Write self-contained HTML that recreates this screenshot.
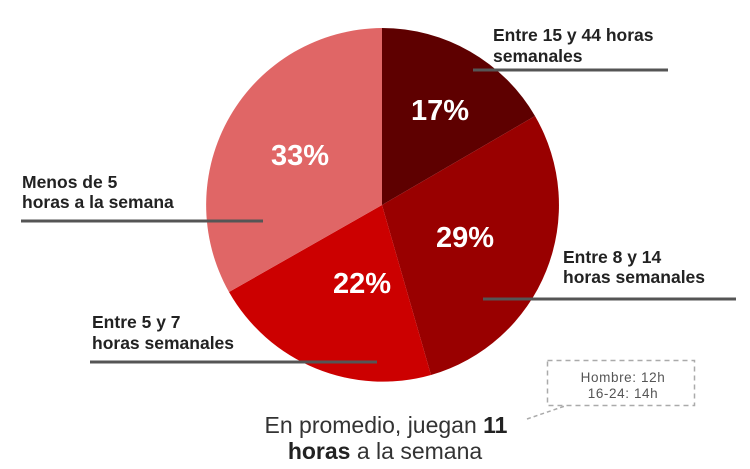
<!DOCTYPE html>
<html><head><meta charset="utf-8"><style>
html,body{margin:0;padding:0;background:#fff;}
svg{display:block;}
</style></head><body>
<svg width="750" height="469" viewBox="0 0 750 469" xmlns="http://www.w3.org/2000/svg">
<g>
<path d="M382,205 L382,28 A177,177 0 0 1 535,116 Z" fill="#5e0000"/>
<path d="M382,205 L535,116 A177,177 0 0 1 431,375 Z" fill="#990000"/>
<path d="M382,205 L431,375 A177,177 0 0 1 229,292 Z" fill="#cc0000"/>
<path d="M382,205 L229,292 A177,177 0 0 1 382,28 Z" fill="#e06666"/>
</g>
<g font-family="Liberation Sans, sans-serif" font-weight="bold" font-size="29" fill="#fff" text-anchor="middle">
<text x="440" y="120">17%</text>
<text x="300" y="165">33%</text>
<text x="465" y="247">29%</text>
<text x="362" y="293">22%</text>
</g>
<g stroke="#555" stroke-width="3">
<line x1="473" y1="70" x2="668" y2="70"/>
<line x1="21" y1="221" x2="263" y2="221"/>
<line x1="90" y1="362" x2="377" y2="362"/>
<line x1="483" y1="299" x2="736" y2="299"/>
</g>
<g font-family="Liberation Sans, sans-serif" font-size="17.5" fill="#222" font-weight="bold">
<text x="493" y="41">Entre 15 y 44 horas</text>
<text x="493" y="62">semanales</text>
<text x="22" y="188">Menos de 5</text>
<text x="22" y="208">horas a la semana</text>
<text x="92" y="328">Entre 5 y 7</text>
<text x="92" y="349">horas semanales</text>
<text x="563" y="263">Entre 8 y 14</text>
<text x="563" y="283">horas semanales</text>
</g>
<rect x="547.5" y="360.5" width="147" height="45" fill="none" stroke="#aaa" stroke-width="1.5" stroke-dasharray="5,4"/>
<line x1="527" y1="419" x2="565" y2="406" stroke="#aaa" stroke-width="1.5" stroke-dasharray="4,3"/>
<g font-family="Liberation Sans, sans-serif" font-size="13.5" fill="#555" text-anchor="middle" letter-spacing="0.6">
<text x="623" y="382">Hombre: 12h</text>
<text x="623" y="398">16-24: 14h</text>
</g>
<g font-family="Liberation Sans, sans-serif" font-size="23" fill="#333" text-anchor="middle">
<text x="386" y="433">En promedio, juegan <tspan font-weight="bold" fill="#222">11</tspan></text>
<text x="385" y="459"><tspan font-weight="bold" fill="#222">horas</tspan> a la semana</text>
</g>
</svg>
</body></html>
